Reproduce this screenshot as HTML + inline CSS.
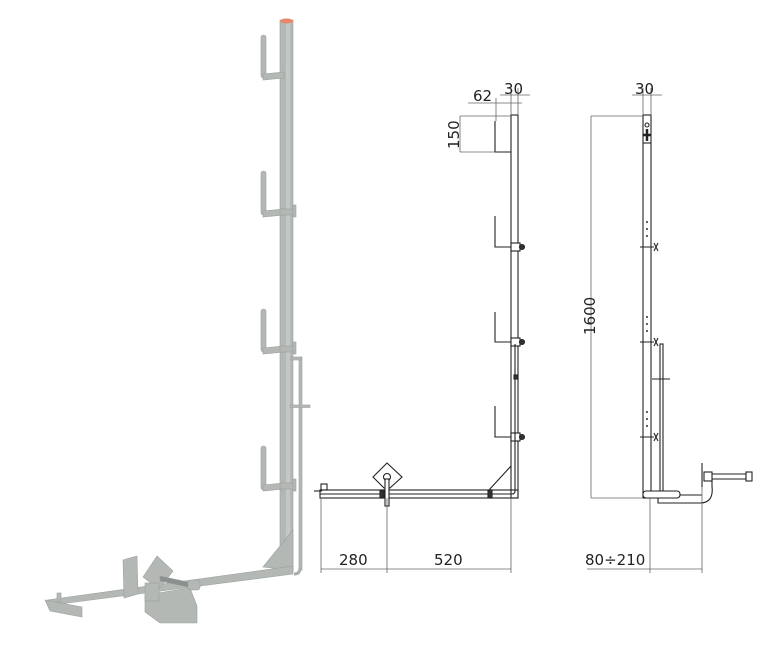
<!DOCTYPE html>
<html><head><meta charset="utf-8"><style>
html,body{margin:0;padding:0;background:#fff;}
svg{display:block;}
text{font-family:"DejaVu Sans","Liberation Sans",sans-serif;font-size:15px;fill:#222;}
</style></head><body>
<svg width="768" height="647" viewBox="0 0 768 647" xmlns="http://www.w3.org/2000/svg">
<!-- ===== 3D render ===== -->
<g fill="#b3b8b5" stroke="#9ba19e" stroke-width="0.6">
  <rect x="280" y="20" width="13" height="552"/>
  <rect x="286" y="20" width="4" height="552" fill="#c3c8c5" stroke="none"/>
  <ellipse cx="286.5" cy="21" rx="6.5" ry="2.5" fill="#e8886a" stroke="none"/>
  <g>
    <rect x="261" y="35" width="5" height="43" rx="2.5"/>
    <polygon points="263,74 284,72 284,78 263,80"/>
    <rect x="261" y="171" width="5" height="44" rx="2.5"/>
    <polygon points="263,211 284,209 284,215 263,217"/>
    <rect x="261" y="309" width="5" height="43" rx="2.5"/>
    <polygon points="263,348 284,346 284,352 263,354"/>
    <rect x="261" y="446" width="5" height="44" rx="2.5"/>
    <polygon points="263,485 284,483 284,489 263,491"/>
  </g>
  <rect x="280" y="209" width="13" height="6"/><rect x="293" y="205" width="3" height="12"/>
  <rect x="280" y="346" width="13" height="6"/><rect x="293" y="342" width="3" height="12"/>
  <rect x="280" y="483" width="13" height="6"/><rect x="293" y="479" width="3" height="12"/>
  <rect x="299" y="357" width="3" height="213"/>
  <rect x="291" y="357" width="10" height="3"/>
  <rect x="290" y="405" width="20" height="2.5"/>
  <path d="M300,568 Q300,574 294,574" fill="none" stroke="#a9aeab" stroke-width="3"/>
  <polygon points="263,567 293,530 293,570"/>
  <polygon points="293,566 293,574 60,604 47,600"/>
  <polygon points="45,600 82,607 82,617 50,611"/>
  <rect x="57" y="593" width="4" height="9"/>
  <polygon points="123,560 137,556 138,594 124,598"/>
  <polygon points="145,595 190,588 197,606 197,623 160,623 145,612"/>
  <polygon points="157,556 173,571 159,589 143,577"/>
  <polygon points="160,576 197,584 197,589 160,581" fill="#8a908d"/>
  <rect x="188" y="580" width="12" height="10" rx="3"/>
  <rect x="145" y="583" width="14" height="18"/>
</g>

<!-- ===== middle drawing ===== -->
<g fill="none" stroke="#222" stroke-width="1.1">
  <rect x="511" y="115" width="7" height="383" fill="#fff"/>
  <polyline points="495,121 495,152 511,152"/>
  <polyline points="495,216 495,247 511,247"/>
  <polyline points="495,312 495,342 511,342"/>
  <polyline points="495,406 495,437 511,437"/>
  <rect x="511" y="243" width="9" height="8" fill="#fff"/><circle cx="522" cy="247" r="2.5" fill="#333"/>
  <rect x="511" y="338" width="9" height="8" fill="#fff"/><circle cx="522" cy="342" r="2.5" fill="#333"/>
  <rect x="511" y="433" width="9" height="8" fill="#fff"/><circle cx="522" cy="437" r="2.5" fill="#333"/>
  <path d="M515,344 L515,491 Q515,494 512,494 L320,494"/>
  <rect x="514" y="375" width="4" height="4" fill="#333"/>
  <rect x="320" y="490" width="198" height="8" fill="none"/>
  <rect x="321" y="484" width="6" height="6"/>
  <line x1="314" y1="491" x2="322" y2="491"/>
  <line x1="489" y1="490" x2="511" y2="466"/>
  <rect x="488" y="490" width="4" height="8" fill="#333"/>
  <polygon points="387,463 402,477 390,488 384,488 373,477" fill="#fff"/>
  <circle cx="387" cy="477" r="3.5"/>
  <rect x="385" y="479" width="4" height="27" fill="#fff"/>
  <rect x="380" y="490" width="4" height="8" fill="#333"/>
</g>
<g stroke="#666" stroke-width="0.8" fill="none">
  <line x1="500" y1="95" x2="530" y2="95"/>
  <line x1="468" y1="103" x2="522" y2="103"/>
  <line x1="511" y1="88" x2="511" y2="115"/>
  <line x1="518" y1="88" x2="518" y2="115"/>
  <line x1="496" y1="98" x2="496" y2="121"/>
  <line x1="460" y1="116" x2="511" y2="116"/>
  <line x1="460" y1="152" x2="495" y2="152"/>
  <line x1="460" y1="116" x2="460" y2="152"/>
  <line x1="321" y1="498" x2="321" y2="573"/>
  <line x1="387" y1="498" x2="387" y2="573"/>
  <line x1="511" y1="498" x2="511" y2="573"/>
  <line x1="321" y1="569" x2="511" y2="569"/>
</g>
<text x="504" y="94">30</text>
<text x="473" y="101">62</text>
<text transform="translate(459,149) rotate(-90)">150</text>
<text x="339" y="565">280</text>
<text x="434" y="565">520</text>

<!-- ===== right drawing ===== -->
<g fill="none" stroke="#222" stroke-width="1.1">
  <rect x="643" y="115" width="8" height="383" fill="#fff"/>
  <circle cx="647" cy="125" r="2"/>
  <path d="M647,129 L647,141 M643,135 L651,135" stroke-width="2.5"/>
  <line x1="643" y1="143" x2="651" y2="143"/>
  <g fill="#333" stroke="none">
    <circle cx="647" cy="222" r="1"/><circle cx="647" cy="229" r="1"/><circle cx="647" cy="236" r="1"/>
    <circle cx="647" cy="317" r="1"/><circle cx="647" cy="324" r="1"/><circle cx="647" cy="331" r="1"/>
    <circle cx="647" cy="412" r="1"/><circle cx="647" cy="419" r="1"/><circle cx="647" cy="426" r="1"/>
  </g>
  <path d="M640,247 L654,247 M654,243 L658,251 M654,251 L658,243"/>
  <path d="M640,342 L654,342 M654,338 L658,346 M654,346 L658,338"/>
  <path d="M640,437 L654,437 M654,433 L658,441 M654,441 L658,433"/>
  <rect x="660" y="344" width="3" height="147" fill="#fff"/>
  <line x1="652" y1="379" x2="670" y2="379"/>
  <rect x="643" y="491" width="37" height="7" rx="3" fill="#fff"/>
  <path d="M658,498 L658,503 L700,503 Q714,503 712,486 L712,479"/>
  <line x1="680" y1="495" x2="702" y2="495"/>
  <line x1="702" y1="463" x2="702" y2="487"/>
  <rect x="704" y="472" width="8" height="9" fill="#fff"/>
  <line x1="712" y1="474" x2="748" y2="474"/>
  <line x1="712" y1="479" x2="748" y2="479"/>
  <rect x="746" y="472" width="6" height="9" fill="#fff"/>
</g>
<g stroke="#666" stroke-width="0.8" fill="none">
  <line x1="632" y1="95" x2="662" y2="95"/>
  <line x1="643" y1="88" x2="643" y2="115"/>
  <line x1="651" y1="88" x2="651" y2="115"/>
  <line x1="591" y1="116" x2="643" y2="116"/>
  <line x1="591" y1="498" x2="643" y2="498"/>
  <line x1="591" y1="116" x2="591" y2="498"/>
  <line x1="650" y1="498" x2="650" y2="573"/>
  <line x1="702" y1="487" x2="702" y2="573"/>
  <line x1="587" y1="569" x2="702" y2="569"/>
</g>
<text x="635" y="94">30</text>
<text transform="translate(595,335) rotate(-90)">1600</text>
<text x="585" y="565">80÷210</text>
</svg>
</body></html>
